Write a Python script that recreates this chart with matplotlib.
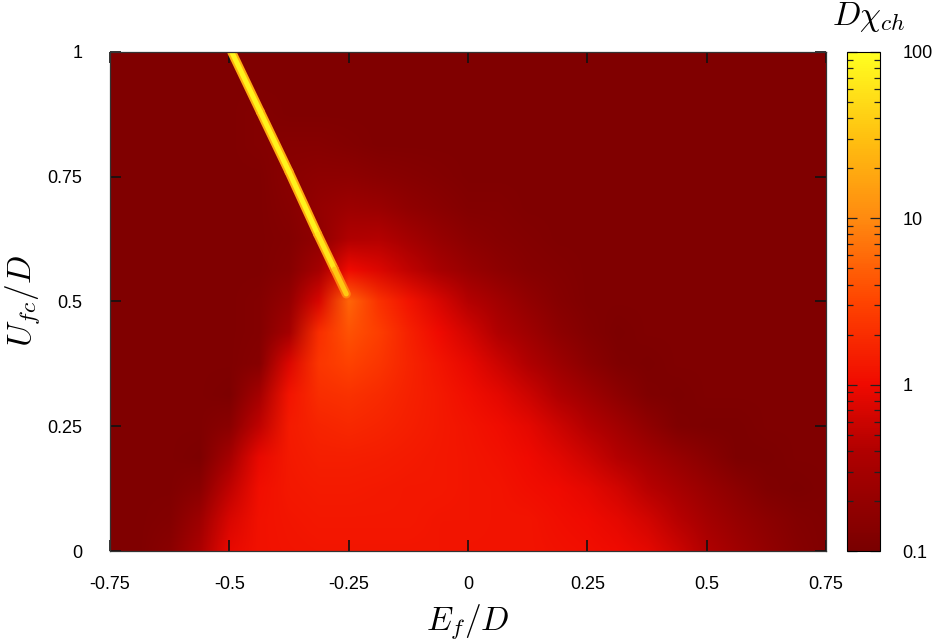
import numpy as np
import matplotlib
matplotlib.use('Agg')
import matplotlib.pyplot as plt
from matplotlib.colors import LinearSegmentedColormap, LogNorm
from matplotlib.collections import LineCollection

plt.rcParams['font.family'] = ['Liberation Sans', 'DejaVu Sans']
plt.rcParams['mathtext.fontset'] = 'cm'

# grid of the map (E_f/D columns, U_fc/D rows)
ef = np.linspace(-0.75, 0.75, 25)
ufc = np.linspace(0.0, 1.0, 17)

# D*chi_ch, rows from U=0 upward
chi = [
    [0.12, 0.12, 0.15, 0.35, 0.9, 1.15, 1.2, 1.25, 1.25, 1.25, 1.25, 1.25, 1.2, 1.2, 1.2, 1.15, 1.1, 1.0, 0.85, 0.6, 0.4, 0.27, 0.19, 0.14, 0.12],
    [0.12, 0.12, 0.13, 0.25, 0.7, 1.15, 1.25, 1.3, 1.3, 1.3, 1.3, 1.25, 1.25, 1.2, 1.2, 1.1, 1.0, 0.85, 0.65, 0.45, 0.3, 0.21, 0.16, 0.13, 0.12],
    [0.12, 0.12, 0.12, 0.15, 0.5, 1.1, 1.3, 1.4, 1.4, 1.35, 1.3, 1.3, 1.25, 1.2, 1.1, 1.0, 0.85, 0.65, 0.45, 0.32, 0.22, 0.16, 0.12, 0.11, 0.12],
    [0.12, 0.12, 0.12, 0.11, 0.3, 0.9, 1.35, 1.5, 1.5, 1.45, 1.4, 1.3, 1.25, 1.15, 1.0, 0.8, 0.6, 0.42, 0.3, 0.21, 0.15, 0.11, 0.11, 0.12, 0.12],
    [0.12, 0.12, 0.12, 0.12, 0.15, 0.5, 1.4, 1.7, 1.8, 1.7, 1.5, 1.35, 1.2, 1.05, 0.85, 0.6, 0.42, 0.28, 0.18, 0.12, 0.11, 0.11, 0.12, 0.12, 0.12],
    [0.12, 0.12, 0.12, 0.12, 0.11, 0.3, 1.2, 2.0, 2.2, 1.9, 1.6, 1.35, 1.1, 0.85, 0.6, 0.4, 0.26, 0.17, 0.12, 0.11, 0.12, 0.12, 0.12, 0.12, 0.12],
    [0.12, 0.12, 0.12, 0.12, 0.12, 0.14, 0.75, 2.4, 3.0, 2.4, 1.7, 1.25, 0.9, 0.6, 0.4, 0.25, 0.16, 0.12, 0.11, 0.12, 0.12, 0.12, 0.12, 0.12, 0.12],
    [0.12, 0.12, 0.12, 0.12, 0.12, 0.13, 0.3, 2.0, 4.0, 2.8, 1.6, 1.0, 0.65, 0.4, 0.26, 0.17, 0.13, 0.11, 0.12, 0.12, 0.12, 0.12, 0.12, 0.12, 0.12],
    [0.12, 0.12, 0.12, 0.12, 0.12, 0.13, 0.2, 0.7, 5.5, 2.2, 1.2, 0.7, 0.42, 0.28, 0.19, 0.14, 0.12, 0.12, 0.12, 0.12, 0.12, 0.12, 0.12, 0.12, 0.12],
    [0.12, 0.12, 0.12, 0.12, 0.12, 0.12, 0.14, 0.3, 1.0, 0.75, 0.5, 0.32, 0.22, 0.17, 0.14, 0.13, 0.12, 0.12, 0.12, 0.12, 0.12, 0.12, 0.12, 0.12, 0.12],
    [0.12, 0.12, 0.12, 0.12, 0.12, 0.12, 0.13, 0.18, 0.4, 0.42, 0.3, 0.21, 0.16, 0.14, 0.13, 0.12, 0.12, 0.12, 0.12, 0.12, 0.12, 0.12, 0.12, 0.12, 0.12],
    [0.12, 0.12, 0.12, 0.12, 0.12, 0.12, 0.14, 0.2, 0.25, 0.23, 0.18, 0.15, 0.13, 0.13, 0.12, 0.12, 0.12, 0.12, 0.12, 0.12, 0.12, 0.12, 0.12, 0.12, 0.12],
    [0.12, 0.12, 0.12, 0.12, 0.12, 0.12, 0.15, 0.17, 0.17, 0.15, 0.14, 0.13, 0.12, 0.12, 0.12, 0.12, 0.12, 0.12, 0.12, 0.12, 0.12, 0.12, 0.12, 0.12, 0.12],
    [0.12, 0.12, 0.12, 0.12, 0.12, 0.13, 0.14, 0.14, 0.13, 0.12, 0.12, 0.12, 0.12, 0.12, 0.12, 0.12, 0.12, 0.12, 0.12, 0.12, 0.12, 0.12, 0.12, 0.12, 0.12],
    [0.12, 0.12, 0.12, 0.12, 0.12, 0.13, 0.12, 0.12, 0.12, 0.12, 0.12, 0.12, 0.12, 0.12, 0.12, 0.12, 0.12, 0.12, 0.12, 0.12, 0.12, 0.12, 0.12, 0.12, 0.12],
    [0.12, 0.12, 0.12, 0.12, 0.12, 0.12, 0.12, 0.12, 0.12, 0.12, 0.12, 0.12, 0.12, 0.12, 0.12, 0.12, 0.12, 0.12, 0.12, 0.12, 0.12, 0.12, 0.12, 0.12, 0.12],
    [0.12, 0.12, 0.12, 0.12, 0.12, 0.12, 0.12, 0.12, 0.12, 0.12, 0.12, 0.12, 0.12, 0.12, 0.12, 0.12, 0.12, 0.12, 0.12, 0.12, 0.12, 0.12, 0.12, 0.12, 0.12],
]

# the sharp yellow ridge going up-left from the apex
ridge_ef = [-0.495, -0.435, -0.375, -0.315, -0.28, -0.255]
ridge_u = [1.0, 0.88, 0.76, 0.635, 0.565, 0.515]
ridge_chi = [80, 80, 80, 75, 50, 20]

x_ticks = [-0.75, -0.5, -0.25, 0, 0.25, 0.5, 0.75]
x_labels = ['-0.75', '-0.5', '-0.25', '0', '0.25', '0.5', '0.75']
y_ticks = [0, 0.25, 0.5, 0.75, 1]
y_labels = ['0', '0.25', '0.5', '0.75', '1']
cb_ticks = [0.1, 1, 10, 100]
cb_labels = ['0.1', '1', '10', '100']

cmap = LinearSegmentedColormap.from_list('gp', [
    (0.0, '#7a0000'), (0.2, '#b00000'), (0.333, '#f00a00'),
    (0.5, '#ff4400'), (0.667, '#ff8a10'), (0.83, '#ffc010'), (1.0, '#ffff20')])
norm = LogNorm(0.1, 100)

fig = plt.figure(figsize=(9.41, 6.41), dpi=100)
ax = fig.add_axes([0.1169, 0.1404, 0.7609, 0.7785])
cax = fig.add_axes([0.9001, 0.1404, 0.0351, 0.7785])

dx = (ef[1] - ef[0]) / 2
dy = (ufc[1] - ufc[0]) / 2
im = ax.imshow(np.array(chi), origin='lower', cmap=cmap, norm=norm, aspect='auto',
               extent=[ef[0] - dx, ef[-1] + dx, ufc[0] - dy, ufc[-1] + dy],
               interpolation='bilinear', interpolation_stage='rgba')

pts = np.column_stack([ridge_ef, ridge_u])
segs = np.stack([pts[:-1], pts[1:]], axis=1)
mids = [(a + b) / 2 for a, b in zip(ridge_chi[:-1], ridge_chi[1:])]
halo = LineCollection(segs, colors=[cmap(norm(v / 4)) for v in mids], linewidths=6.5, capstyle='round')
core = LineCollection(segs, cmap=cmap, norm=norm, linewidths=3.6, capstyle='round')
core.set_array(np.array(mids))
ax.add_collection(halo)
ax.add_collection(core)

ax.set_xlim(-0.75, 0.75)
ax.set_ylim(0, 1)
ax.set_xticks(x_ticks, x_labels)
ax.set_yticks(y_ticks, y_labels)
ax.tick_params(direction='in', length=8, width=1.2, top=True, right=True,
               labelsize=13, color='#111111')
ax.tick_params(axis='x', pad=18)
ax.tick_params(axis='y', pad=20)
for s in ax.spines.values():
    s.set_linewidth(0.9)
    s.set_color('#333333')
ax.set_xlabel(r'$E_f/D$', fontsize=24, labelpad=7)
ax.set_ylabel(r'$U_{fc}/D$', fontsize=24, labelpad=4)

cb = fig.colorbar(im, cax=cax)
cb.set_ticks(cb_ticks, labels=cb_labels)
cax.tick_params(which='both', direction='in', left=True, right=True, width=0.9,
                color='#222222', labelsize=13, pad=16)
cax.tick_params(which='major', length=7)
cax.tick_params(which='minor', length=4)
cb.outline.set_linewidth(0.8)
fig.text(832 / 941, 1 - 25 / 641, r'$D\chi_{ch}$', fontsize=24, ha='left', va='baseline')

fig.savefig('out.png', dpi=100)
